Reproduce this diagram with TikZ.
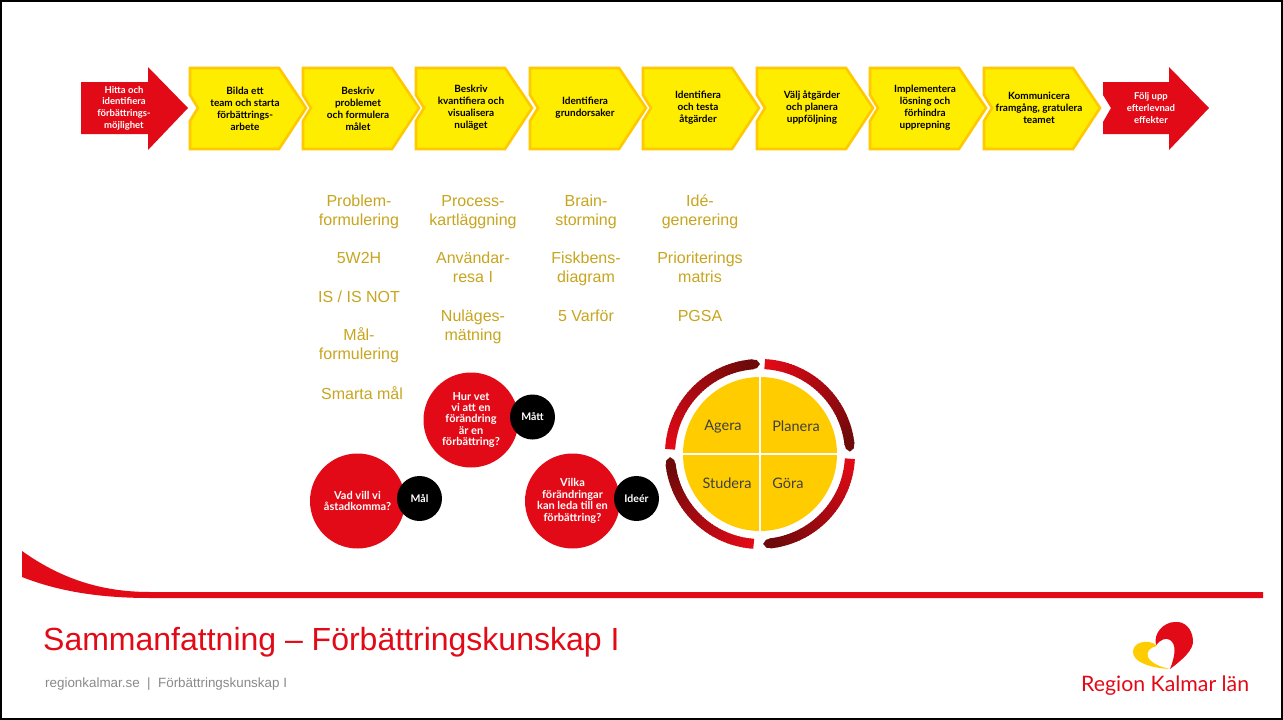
\documentclass[tikz,border=0pt]{standalone}
\usepackage{fontspec}
\setmainfont{Liberation Sans}
\newfontfamily\logofont{Lato}
\usetikzlibrary{positioning}
\definecolor{regionred}{HTML}{E30A17}
\definecolor{stepyellow}{HTML}{FFED00}
\definecolor{steporange}{HTML}{FFC800}
\definecolor{toolgold}{HTML}{C8A51E}
\definecolor{pdsafill}{HTML}{FFCC00}
\definecolor{ringdark}{HTML}{6E0A0A}
\definecolor{footgray}{HTML}{8A8A8A}
\tikzset{
	x=1pt, y=-1pt,
	stepbox/.style={fill=stepyellow, draw=steporange, line width=2.6pt, line join=miter},
	steptext/.style={align=center, text=black, inner sep=0pt, font=\logofont\bfseries\fontsize{10}{12}\selectfont},
	redarrow/.style={fill=regionred, line join=round},
	redtext/.style={steptext, text=white, font=\logofont\bfseries\fontsize{9.5}{11.7}\selectfont},
	tool/.style={align=center, text=toolgold, inner sep=0pt, font=\fontsize{16}{19.2}\selectfont},
	bigdot/.style={circle, fill=regionred, minimum size=95pt, inner sep=0pt, align=center, text=white, font=\logofont\bfseries\fontsize{11}{11.4}\selectfont},
	blackdot/.style={circle, fill=black, minimum size=45pt, inner sep=0pt, text=white, font=\logofont\bfseries\fontsize{10.5}{11.4}\selectfont},
	pdsa/.style={inner sep=0pt, text=black!75, font=\logofont\fontsize{14.5}{16}\selectfont}
}
\newcommand{\stepchev}[4]{%
	\draw[stepbox] (#1+1,68) -- (#1+90,68) -- (#1+117,108) -- (#1+90,149) -- (#1+1,149) -- (#1+1,121) -- (#1+9,108) -- (#1+1,95) -- cycle;
	\node[steptext] (#2) at (#1+56,#3) {#4};
}
\newcommand{\ringarc}[2]{%
	\foreach \i in {0,...,39} {
		\pgfmathsetmacro{\arcfrom}{#1-(#1-#2-5)*\i/40}
		\pgfmathsetmacro{\arcto}{#1-(#1-#2-5)*(\i+1.3)/40}
		\pgfmathsetmacro{\arcmix}{min(100,\i*2.6)}
		\draw[line width=10pt, ringdark!\arcmix!regionred] (\arcfrom:90pt) arc[start angle=\arcfrom, end angle=\arcto, radius=90pt];
	}
	\fill[ringdark] (#2+5.5:95pt) -- (#2+2:94pt) -- (#2:90pt) -- (#2+2:86pt) -- (#2+5.5:85pt) -- cycle;
}

\begin{document}
\begin{tikzpicture}
	\useasboundingbox (0,0) rectangle (1283,720);
	\fill[white] (0,0) rectangle (1283,720);
	\draw[black, line width=2pt] (1,1) rectangle (1282,719);

	% process arrows
	\fill[redarrow] (81,82) -- (148,82) -- (148,67) -- (188,108) -- (148,150) -- (148,134) -- (81,134) -- cycle;
	\node[redtext] (find) at (124,108) {Hitta och\\identifiera\\förbättrings-\\möjlighet};
	\stepchev{189}{team}{109}{Bilda ett\\team och starta\\förbättrings-\\arbete}
	\stepchev{302}{problem}{109}{Beskriv\\problemet\\och formulera\\målet}
	\stepchev{415}{quantify}{108}{Beskriv\\kvantifiera och\\visualisera\\nuläget}
	\stepchev{529}{causes}{108}{Identifiera\\grundorsaker}
	\stepchev{642}{test}{108}{Identifiera\\och testa\\åtgärder}
	\stepchev{756}{choose}{108}{Välj åtgärder\\och planera\\uppföljning}
	\stepchev{869}{implement}{108}{Implementera\\lösning och\\förhindra\\upprepning}
	\stepchev{983}{tell}{108}{Kommunicera\\framgång, gratulera\\teamet}
	\fill[redarrow] (1103,82) -- (1169,82) -- (1169,67) -- (1209,108) -- (1169,150) -- (1169,134) -- (1103,134) -- (1103,122) -- (1111,108) -- (1103,95) -- cycle;
	\node[redtext] (follow) at (1151,108) {Följ upp\\efterlevnad\\effekter};

	% tools
	\node[tool] (probform) at (359,212) {Problem-\\formulering};
	\node[tool] (fivew) at (359,258) {5W2H};
	\node[tool] (isnot) at (359,296.5) {IS / IS NOT};
	\node[tool] (malform) at (359,345) {Mål-\\formulering};
	\node[tool] (smart) at (362,393) {Smarta mål};
	\node[tool] (mapping) at (473,212) {Process-\\kartläggning};
	\node[tool] (journey) at (473,267.5) {Användar-\\resa I};
	\node[tool] (measure) at (473,327) {Nuläges-\\mätning};
	\node[tool] (storm) at (586,212) {Brain-\\storming};
	\node[tool] (fishbone) at (586,269) {Fiskbens-\\diagram};
	\node[tool] (fivewhy) at (586,316) {5 Varför};
	\node[tool] (ideas) at (700,212) {Idé-\\generering};
	\node[tool] (matrix) at (700,267.5) {Prioriterings\\matris};
	\node[tool] (pgsa) at (700,316) {PGSA};

	% questions
	\node[bigdot] (goal) at (357.5,501) {Vad vill vi\\åstadkomma?};
	\node[blackdot] (mal) at (419.5,498.5) {Mål};
	\node[bigdot] (know) at (471,420) {Hur vet\\vi att en\\förändring\\är en\\förbättring?};
	\node[blackdot] (matt) at (532.5,417) {Mått};
	\node[bigdot] (change) at (572.5,501) {Vilka\\förändringar\\kan leda till en\\förbättring?};
	\node[blackdot] (ideer) at (636.5,498.5) {Ideér};

	% wheel
	\fill[pdsafill] (760,454) circle (77pt);
	\draw[white, line width=2pt] (760,376) -- (760,532) (683,454) -- (837,454);
	\begin{scope}[shift={(760,454)}]
		\ringarc{87}{1.5}
		\ringarc{-3}{-88}
		\ringarc{-94}{-178}
		\ringarc{177}{90}
	\end{scope}
	\node[pdsa] (agera) at (723,427) {Agera};
	\node[pdsa] (planera) at (796,426.5) {Planera};
	\node[pdsa] (studera) at (727,483) {Studera};
	\node[pdsa] (gora) at (788,483) {Göra};

	% footer
	\fill[regionred] (22,551) .. controls (60,578) and (100,592) .. (150,592) -- (1263,592) -- (1263,598) -- (150,598) .. controls (95,598) and (55,590) .. (22,577) -- cycle;
	\node[anchor=base west, inner sep=0pt, text=regionred, font=\fontsize{32}{36}\selectfont] (title) at (43,650) {Sammanfattning – Förbättringskunskap I};
	\node[anchor=base west, inner sep=0pt, text=footgray, font=\fontsize{13.4}{15}\selectfont] (foot) at (45,687) {regionkalmar.se \;|\; Förbättringskunskap I};

	% logo
	\fill[regionred] (1170,669) .. controls (1182,660) and (1194,650) .. (1193,640) .. controls (1192,628) and (1184,621) .. (1175,622) .. controls (1164,622) and (1153,633) .. (1156,645) .. controls (1160,640) and (1166,637) .. (1170,640) .. controls (1176,644) and (1176,654) .. (1170,669) -- cycle;
	\fill[pdsafill] (1170,669) .. controls (1150,668) and (1133,662) .. (1133,652) .. controls (1133,644) and (1142,641) .. (1149,642) .. controls (1152,642) and (1155,644) .. (1157,646) .. controls (1150,647) and (1146,652) .. (1148,657) .. controls (1151,663) and (1160,667) .. (1170,669) -- cycle;
	\node[anchor=base west, inner sep=0pt, text=regionred, font=\logofont\fontsize{21.3}{26}\selectfont] (logotext) at (1081,691) {Region Kalmar län};
\end{tikzpicture}
\end{document}
